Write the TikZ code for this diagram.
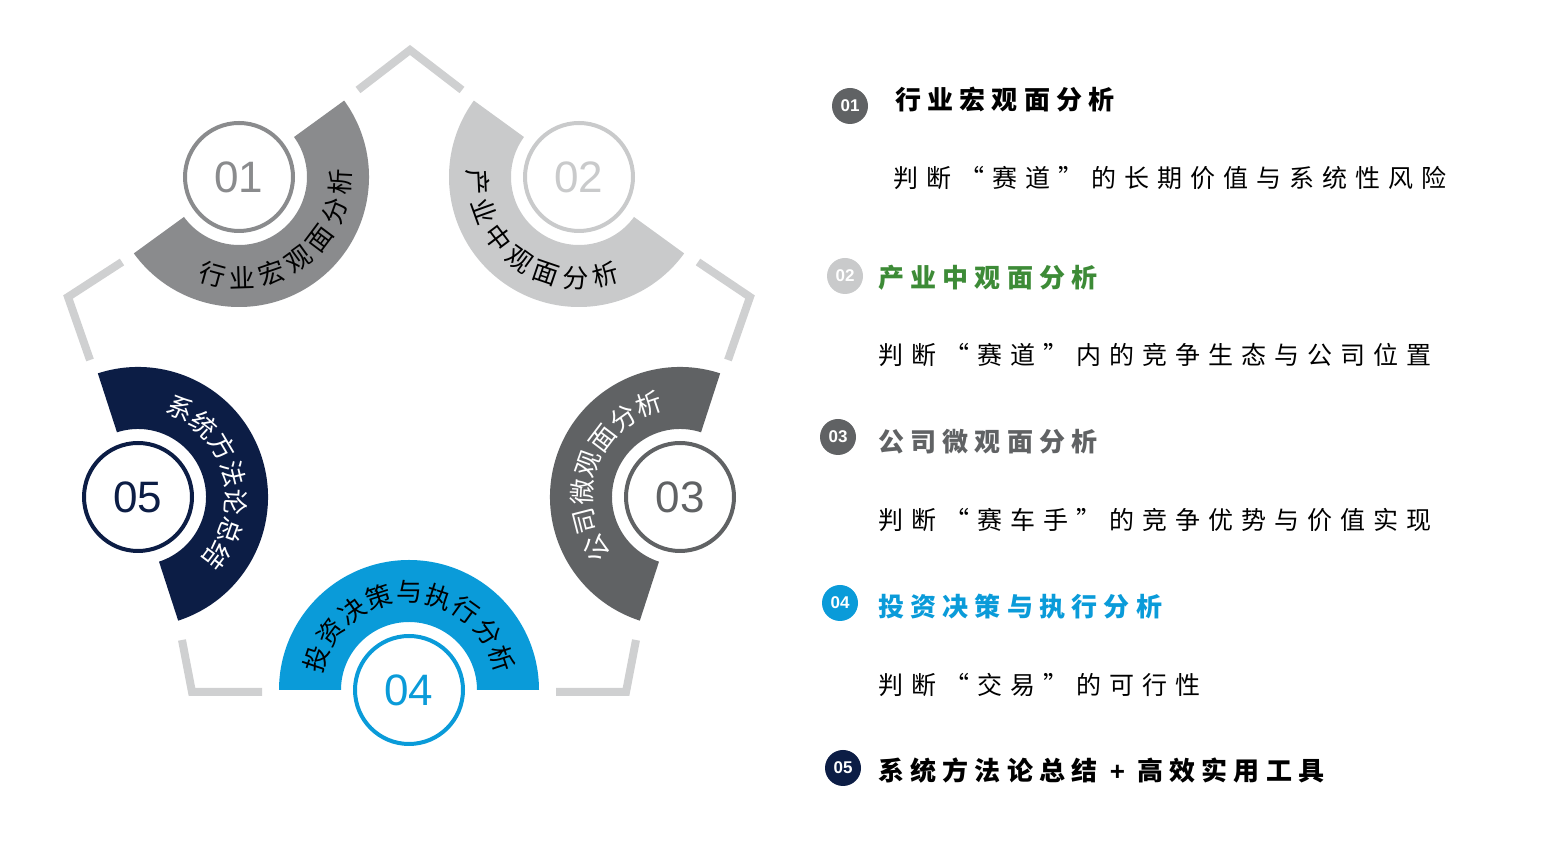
\documentclass[tikz,border=0pt]{standalone}
\usepackage{fontspec}
\newfontfamily\cjk{Noto Sans CJK SC}
\newfontfamily\cjkt[LetterSpace=24]{Noto Sans CJK SC}
\newfontfamily\cjks[LetterSpace=32]{Noto Sans CJK SC}
\newfontfamily\numf{Liberation Sans}
\usetikzlibrary{decorations.text}
\definecolor{cA}{HTML}{8A8B8D}
\definecolor{cB}{HTML}{C9CACB}
\definecolor{cC}{HTML}{606264}
\definecolor{cD}{HTML}{0A9BD9}
\definecolor{cE}{HTML}{0C1D45}
\definecolor{pent}{HTML}{CFD0D1}
\definecolor{green2}{HTML}{3D8B37}
\begin{document}
\begin{tikzpicture}[x=1pt,y=1pt,
  pentline/.style={draw=pent,line width=8pt,line join=miter},
  numcircle/.style={circle,draw=#1,line width=4pt,fill=white,minimum size=108pt,inner sep=0pt,text=#1,font=\numf\fontsize{44}{44}\selectfont},
  badge/.style={circle,fill=#1,minimum size=36pt,inner sep=0pt,text=white,font=\numf\bfseries\fontsize{17}{17}\selectfont},
  title/.style={anchor=west,inner sep=0pt,font=\cjkt\bfseries\fontsize{26}{26}\selectfont},
  sub/.style={anchor=west,inner sep=0pt,font=\cjks\fontsize{25}{25}\selectfont}]
\useasboundingbox (0,0) rectangle (1564,856);
% pentagon corners
\draw[pentline] (358,766) -- (410,806) -- (462,766);
\draw[pentline] (122,594) -- (68,559) -- (90,496);
\draw[pentline] (698,594) -- (750,559) -- (728,496);
\draw[pentline] (182,216) -- (192,164) -- (262,164);
\draw[pentline] (636,216) -- (626,164) -- (556,164);
% sectors
\newcommand\mysect[3]{%
  \fill[#3,shift={#1}] ({#2-90}:130) arc[start angle={#2-90},end angle={#2+90},radius=130]
    -- ({#2+90}:68) arc[start angle={#2+90},end angle={#2-90},radius=68] -- cycle;}
\mysect{(239,679)}{-54}{cA}
\mysect{(579,679)}{-126}{cB}
\mysect{(680,359)}{162}{cC}
\mysect{(409,166)}{90}{cD}
\mysect{(138,359)}{18}{cE}
% arc texts
\newcommand\intext[4]{% center, mid, text, color  (tops inward, ccw)
  \path[shift={#1},decorate,decoration={text along path,text align=fit to path,
    text format delimiters={|}{|},text color=#4,
    text={|\cjk\fontsize{26}{26}\selectfont|#3}}]
    ({#2-58}:111) arc[start angle={#2-58},end angle={#2+58},radius=111];}
\newcommand\outtext[5]{% center, mid, half span, text, color (tops outward, cw)
  \path[shift={#1},decorate,decoration={text along path,text align=fit to path,
    text format delimiters={|}{|},text color=#5,
    text={|\cjk\fontsize{26}{26}\selectfont|#4}}]
    ({#2+#3}:88) arc[start angle={#2+#3},end angle={#2-#3},radius=88];}
\intext{(239,679)}{-54}{行业宏观面分析}{black}
\intext{(579,679)}{-126}{产业中观面分析}{black}
\outtext{(680,359)}{160}{60}{公司微观面分析}{white}
\outtext{(409,166)}{90}{80}{投资决策与执行分析}{black}
\outtext{(138,359)}{15}{58}{系统方法论总结}{white}
% circles
\node[numcircle=cA] (c1) at (239,679) {01};
\node[numcircle=cB] (c2) at (579,679) {02};
\node[numcircle=cC] (c3) at (680,359) {03};
\node[numcircle=cD] (c4) at (409,166) {04};
\node[numcircle=cE] (c5) at (138,359) {05};
% right panel
\node[badge=cC] (b1) at (850,750) {01};
\node[title] (t1) at (895,756) {行业宏观面分析};
\node[sub] (s1) at (893,678) {判断“赛道”的长期价值与系统性风险};
\node[badge=cB] (b2) at (845,580) {02};
\node[title,text=green2] (t2) at (878,578) {产业中观面分析};
\node[sub] (s2) at (878,501) {判断“赛道”内的竞争生态与公司位置};
\node[badge=cC] (b3) at (838,419) {03};
\node[title,text=cC] (t3) at (878,414) {公司微观面分析};
\node[sub] (s3) at (878,336) {判断“赛车手”的竞争优势与价值实现};
\node[badge=cD] (b4) at (840,253) {04};
\node[title,text=cD] (t4) at (878,249) {投资决策与执行分析};
\node[sub] (s4) at (878,171) {判断“交易”的可行性};
\node[badge=cE] (b5) at (843,88) {05};
\node[title,text=black] (t5) at (878,85) {系统方法论总结 {\numf\bfseries +} 高效实用工具};
\end{tikzpicture}
\end{document}
